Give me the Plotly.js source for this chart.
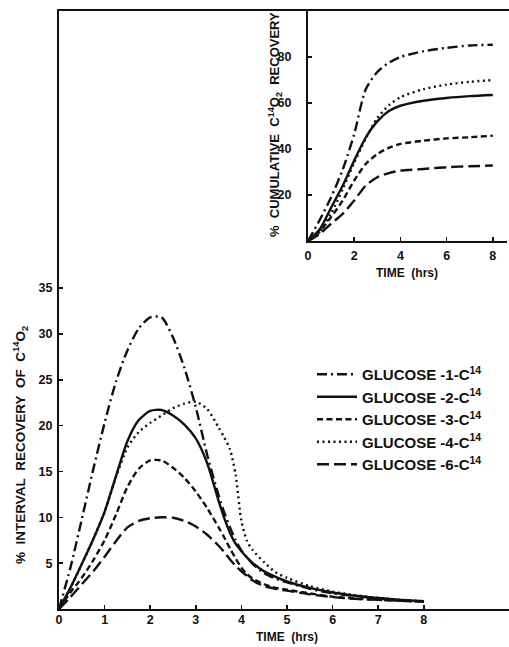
<!DOCTYPE html>
<html>
<head>
<meta charset="utf-8">
<script src="https://cdn.plot.ly/plotly-3.0.1.min.js"></script>
<style>html,body{margin:0;padding:0;background:#fff;}#chart{width:509px;height:647px;}</style>
</head>
<body>
<div id="chart"></div>
<script>
// ---- Main chart: interval recovery (% of C14O2) vs time (hrs)
const timeMain = [0,0.25,0.5,0.75,1,1.25,1.5,1.75,2,2.25,2.5,2.75,3,3.25,3.5,3.625,3.75,3.875,4,4.125,4.25,4.5,4.75,5,5.5,6,6.5,7,7.5,8];
const g1Interval = [0,4.5,9.8,15.2,20.3,24.8,28.2,30.6,31.8,31.8,29.6,26.3,22,16.8,12.4,10.5,8.9,7.5,6.4,5.6,4.9,3.9,3.3,2.9,2.2,1.7,1.4,1.15,0.95,0.8];
const g2Interval = [0,2.3,4.9,7.6,10.6,14.5,18.3,20.6,21.6,21.7,21.1,20.1,18.6,15.9,11.8,9.9,8.3,7.1,6.3,5.6,5.0,4.1,3.5,3.0,2.3,1.8,1.45,1.2,1.0,0.85];
const g3Interval = [0,1.8,3.4,5.3,7.5,10.3,13.3,15.3,16.2,16.2,15.4,14.3,12.8,11.0,8.9,7.8,6.6,5.5,4.5,3.8,3.3,2.7,2.3,2.1,1.7,1.35,1.15,1.0,0.9,0.8];
const g4Interval = [0,2.3,4.9,7.6,10.6,14.4,17.6,19.3,20.3,21.1,21.9,22.4,22.6,21.8,19.8,18.7,17.4,14.6,9.6,7.4,6.4,5.1,4.0,3.4,2.5,1.9,1.5,1.2,1.0,0.85];
const g6Interval = [0,1.3,2.7,4.1,5.7,7.4,8.9,9.6,9.9,10.0,9.95,9.6,9.0,8.1,6.9,6.2,5.4,4.7,4.1,3.6,3.1,2.5,2.2,2.0,1.6,1.3,1.1,1.0,0.9,0.8];

// ---- Inset: cumulative recovery (%)
const timeInset = [0,0.5,1,1.5,2,2.5,3,3.5,4,5,6,7,8];
const g1Cum = [0,9,19,31,46.5,66,73.5,77.5,80,82.5,84,85,85.3];
const g2Cum = [0,5,14.5,24,35,45,52,56.5,58.8,61,62.2,63,63.5];
const g3Cum = [0,4,10.4,17.6,26.3,33.5,37.8,40.5,42.2,43.6,44.6,45.1,45.8];
const g4Cum = [0,4,12,22.5,34,44.5,53.5,59,62.5,66,68,69.2,70];
const g6Cum = [0,3,7.5,11.8,17.6,24.1,27.7,29.5,30.6,31.3,32.1,32.5,32.8];

const seriesNames = ['GLUCOSE -1-C<sup>14</sup>','GLUCOSE -2-C<sup>14</sup>','GLUCOSE -3-C<sup>14</sup>','GLUCOSE -4-C<sup>14</sup>','GLUCOSE -6-C<sup>14</sup>'];
const mainTicks = [0,1,2,3,4,5,6,7,8];
const mainYTicks = [5,10,15,20,25,30,35];
const insetXTicks = [0,2,4,6,8];
const insetYTicks = [20,40,60,80];

const dashes = ['10px,4px,2px,4px','solid','6px,3.5px','2px,3.5px','12px,5px'];
const mainY = [g1Interval,g2Interval,g3Interval,g4Interval,g6Interval];
const insetY = [g1Cum,g2Cum,g3Cum,g4Cum,g6Cum];

const traces = [];
for (let i=0;i<5;i++){
  traces.push({x:timeMain, y:mainY[i], type:'scatter', mode:'lines', name:seriesNames[i],
    line:{color:'#111', width:2.4, dash:dashes[i], shape:'spline', smoothing:0.7},
    xaxis:'x', yaxis:'y', showlegend:true});
}
for (let i=0;i<5;i++){
  traces.push({x:timeInset, y:insetY[i], type:'scatter', mode:'lines', name:seriesNames[i],
    line:{color:'#111', width:2.4, dash:dashes[i], shape:'spline', smoothing:0.7},
    xaxis:'x2', yaxis:'y2', showlegend:false});
}

const W=509,H=647;
const FAM = 'Liberation Sans, Arial, sans-serif';
const tf = {family:FAM, size:12.5, color:'#111', weight:'bold'};
const layout = {
  width:W, height:H, margin:{l:0,r:0,t:0,b:0}, paper_bgcolor:'#fff', plot_bgcolor:'rgba(0,0,0,0)',
  showlegend:true,
  legend:{x:312/W, y:(H-358)/H, xanchor:'left', yanchor:'top', bgcolor:'rgba(0,0,0,0)',
    font:{family:FAM, size:15, color:'#111', weight:'bold'}, itemwidth:40, tracegroupgap:0},
  xaxis:{domain:[59/W,1], range:[0,450/45.6], tickvals:mainTicks, ticktext:mainTicks.map(String),
    showline:true, linecolor:'#111', linewidth:2, mirror:true, ticks:'inside', ticklen:4, tickwidth:1.5, tickcolor:'#111',
    showgrid:false, zeroline:false, tickfont:tf, anchor:'y', ticklabelstandoff:-2},
  yaxis:{domain:[(H-609)/H,(H-11)/H], range:[0,598/9.17], tickvals:mainYTicks, ticktext:mainYTicks.map(String),
    showline:true, linecolor:'#111', linewidth:2, ticks:'inside', ticklen:4, tickwidth:1.5, tickcolor:'#111',
    showgrid:false, zeroline:false, tickfont:tf, anchor:'x', ticklabelstandoff:2},
  xaxis2:{domain:[308/W,507/W], range:[0,199/23.1], tickvals:insetXTicks, ticktext:insetXTicks.map(String),
    showline:true, linecolor:'#111', linewidth:2, ticks:'inside', ticklen:4, tickwidth:1.5, tickcolor:'#111',
    showgrid:false, zeroline:false, tickfont:tf, anchor:'y2', ticklabelstandoff:2},
  yaxis2:{domain:[(H-241)/H,(H-11)/H], range:[0,100], tickvals:insetYTicks, ticktext:insetYTicks.map(String),
    showline:true, linecolor:'#111', linewidth:2, ticks:'inside', ticklen:4, tickwidth:1.5, tickcolor:'#111',
    showgrid:false, zeroline:false, tickfont:tf, anchor:'x2', ticklabelstandoff:12},
  annotations:[
    {text:'%\u00A0\u00A0INTERVAL\u00A0\u00A0RECOVERY\u00A0\u00A0OF\u00A0\u00A0C<sup>14</sup>O<sub>2</sub>', x:20/W, y:(H-445)/H, xref:'paper', yref:'paper',
      xanchor:'center', yanchor:'middle', textangle:-90, showarrow:false, font:{family:FAM, size:13.5, color:'#111', weight:'bold'}},
    {text:'TIME\u00A0\u00A0(hrs)', x:287/W, y:(H-637)/H, xref:'paper', yref:'paper', xanchor:'center', yanchor:'middle', showarrow:false,
      font:{family:FAM, size:12, color:'#111', weight:'bold'}},
    {text:'%\u00A0\u00A0CUMULATIVE\u00A0\u00A0C<sup>14</sup>O<sub>2</sub>\u00A0\u00A0RECOVERY', x:275/W, y:(H-125)/H, xref:'paper', yref:'paper',
      xanchor:'center', yanchor:'middle', textangle:-90, showarrow:false, font:{family:FAM, size:13, color:'#111', weight:'bold'}},
    {text:'TIME\u00A0\u00A0(hrs)', x:407/W, y:(H-273)/H, xref:'paper', yref:'paper', xanchor:'center', yanchor:'middle', showarrow:false,
      font:{family:FAM, size:12, color:'#111', weight:'bold'}}
  ]
};
Plotly.newPlot('chart', traces, layout, {staticPlot:true, displayModeBar:false});
</script>
</body>
</html>
